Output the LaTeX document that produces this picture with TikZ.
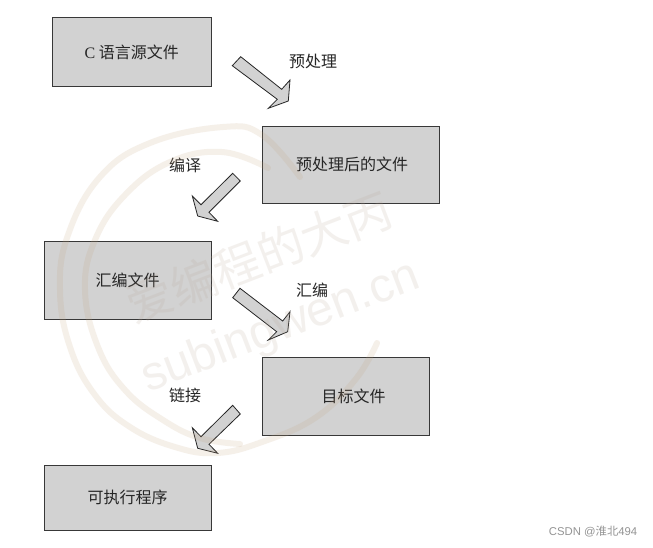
\documentclass[tikz,border=0pt]{standalone}
\usepackage{fontspec}
\setmainfont{Liberation Serif}
\newfontfamily\cjk{Noto Sans CJK SC}
\newfontfamily\wmsans{Liberation Sans}
\definecolor{boxgray}{HTML}{D2D2D2}
\definecolor{wmtan}{HTML}{C4A27C}
\definecolor{wmgray}{HTML}{B8A898}
\begin{document}
\begin{tikzpicture}[x=0.75pt,y=-0.75pt,
  flowbox/.style={draw=black!78,line width=0.7pt,fill=boxgray},
  boxtext/.style={font=\cjk\fontsize{12}{14}\selectfont,text=black!85},
  steplabel/.style={font=\cjk\fontsize{12}{14}\selectfont,text=black!85},
  blockarrow/.style={draw=black!85,line width=0.6pt,fill=boxgray,line join=miter},
  wmring/.style={draw=wmtan,opacity=0.16,line width=4.5pt,line cap=round},
  wmtext/.style={text=wmgray,text opacity=0.17,rotate=21}]
\useasboundingbox (0,0) rectangle (653,547);
\fill[white] (0,0) rectangle (653,547);
% boxes
\node[flowbox,minimum width=119pt,minimum height=52pt,inner sep=0pt,boxtext] (na) at (131.75,52.25) {{\rmfamily C} 语言源文件};
\node[flowbox,minimum width=133pt,minimum height=57.75pt,inner sep=0pt,boxtext] (nb) at (350.75,164.5) {\hspace*{2pt}预处理后的文件};
\node[flowbox,minimum width=125.25pt,minimum height=58.5pt,inner sep=0pt,boxtext] (nc) at (127.5,280) {汇编文件};
\node[flowbox,minimum width=125.25pt,minimum height=58.5pt,inner sep=0pt,boxtext] (nd) at (345.5,396) {\hspace*{12pt}目标文件};
\node[flowbox,minimum width=125.25pt,minimum height=48.75pt,inner sep=0pt,boxtext] (ne) at (127.5,497.5) {可执行程序};
% labels
\node[steplabel] (l1) at (313,61) {预处理};
\node[steplabel] (l2) at (185,165) {编译};
\node[steplabel] (l3) at (312,290) {汇编};
\node[steplabel] (l4) at (185,395) {链接};
% arrows
\draw[blockarrow] (240.7,56.7) -- (232.3,65.7) -- (277.3,99.3) -- (268.3,108.3) -- (288.3,101) -- (290,80) -- (281.7,89.3) -- cycle;
\draw[blockarrow] (232.7,173.3) -- (240.3,181) -- (209,212.3) -- (217.7,221.3) -- (197.7,216) -- (192.3,196) -- (201,204.7) -- cycle;
\draw[blockarrow] (240,288.3) -- (232.7,297.7) -- (276.7,331.7) -- (268.3,340) -- (287.7,331.7) -- (290,311.7) -- (282.7,321) -- cycle;
\draw[blockarrow] (232.7,405.3) -- (240.3,414) -- (209,444.3) -- (217.7,453.3) -- (197.7,448.3) -- (192.3,427.7) -- (201,436.7) -- cycle;
% watermark, lying over the drawing
\draw[wmring] plot[smooth,tension=0.7] coordinates {(300,177) (262,135) (223,127) (150,143) (100,177) (68,235) (60,290) (70,347) (95,395) (130,427) (175,447) (217,453) (262,442) (315,418) (355,380) (377,343)};
\draw[wmring] plot[smooth,tension=0.7] coordinates {(268,168) (222,152) (170,162) (125,195) (95,240) (85,290) (98,347) (125,390) (163,420) (200,438) (240,444)};
\node[wmtext,font=\cjk\fontsize{35}{38}\selectfont] (wmcn) at (259,257) {爱编程的大丙};
\node[wmtext,font=\wmsans\fontsize{36}{40}\selectfont] (wmen) at (281,328) {subingwen.cn};
\node[font=\wmsans\fontsize{8.5}{10}\selectfont,text=black!42,anchor=east] (csdn) at (642,532) {CSDN @{\cjk 淮北}494};
\end{tikzpicture}
\end{document}
